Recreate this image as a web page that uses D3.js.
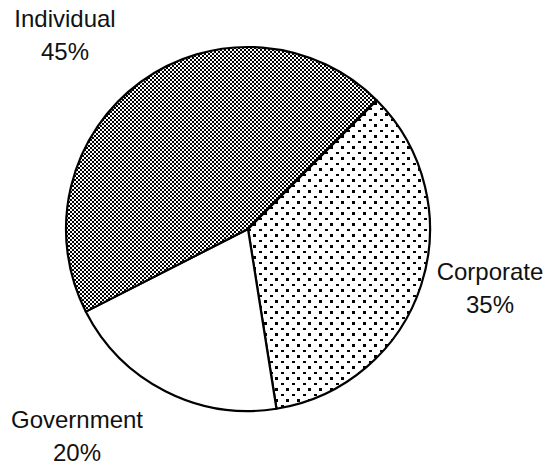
<!DOCTYPE html>
<html>
<head>
<meta charset="utf-8">
<script src="https://cdn.jsdelivr.net/npm/d3@7"></script>
<style>
  html, body { margin: 0; padding: 0; background: #fff; }
  svg { display: block; }
  text { font-family: "Liberation Sans", Arial, Helvetica, sans-serif; fill: #111; }
</style>
</head>
<body>
<svg id="chart" width="546" height="466"></svg>
<script>
// ---- data ----
const categories = ["Corporate", "Government", "Individual"];
const shares = [35, 20, 45];
const labelTexts = ["35%", "20%", "45%"];
const patterns = ["dots", "none", "checker"];

// ---- layout ----
const W = 546, H = 466;
const cx = 248, cy = 229, R = 182;
const startDeg = 45;
const labelPos = {
  Corporate:  { x: 490, y1: 280, y2: 313 },
  Government: { x: 77,  y1: 428, y2: 461 },
  Individual: { x: 65,  y1: 27,  y2: 60 }
};

const svg = d3.select("#chart");
const defs = svg.append("defs");

// checkerboard pattern
const chk = defs.append("pattern").attr("id", "checker")
  .attr("patternUnits", "userSpaceOnUse").attr("width", 4).attr("height", 4);
chk.append("rect").attr("width", 4).attr("height", 4).attr("fill", "#fff");
chk.append("rect").attr("x", 0).attr("y", 0).attr("width", 2).attr("height", 2).attr("fill", "#000");
chk.append("rect").attr("x", 2).attr("y", 2).attr("width", 2).attr("height", 2).attr("fill", "#000");

// dots pattern
const dts = defs.append("pattern").attr("id", "dots")
  .attr("patternUnits", "userSpaceOnUse").attr("width", 11).attr("height", 11);
dts.append("rect").attr("width", 11).attr("height", 11).attr("fill", "#fff");
dts.append("rect").attr("x", 0).attr("y", 0).attr("width", 3).attr("height", 2).attr("fill", "#000");
dts.append("rect").attr("x", 5).attr("y", 5).attr("width", 3).attr("height", 3).attr("fill", "#000");

const data = categories.map((c, i) => ({ name: c, value: shares[i], label: labelTexts[i], pat: patterns[i] }));

const pie = d3.pie().sort(null).value(d => d.value)
  .startAngle(startDeg * Math.PI / 180)
  .endAngle(startDeg * Math.PI / 180 + 2 * Math.PI);
const arc = d3.arc().innerRadius(0).outerRadius(R);

const g = svg.append("g").attr("transform", `translate(${cx},${cy})`);
g.selectAll("path").data(pie(data)).join("path")
  .attr("d", arc)
  .attr("fill", d => d.data.pat === "none" ? "#fff" : `url(#${d.data.pat})`)
  .attr("stroke", "#000")
  .attr("stroke-width", 2.2)
  .attr("stroke-linejoin", "round");

const lab = svg.append("g");
data.forEach(d => {
  const p = labelPos[d.name];
  lab.append("text").attr("x", p.x).attr("y", p.y1).attr("text-anchor", "middle")
    .attr("font-size", 24).text(d.name);
  lab.append("text").attr("x", p.x).attr("y", p.y2).attr("text-anchor", "middle")
    .attr("font-size", 24).text(d.label);
});
</script>
</body>
</html>
